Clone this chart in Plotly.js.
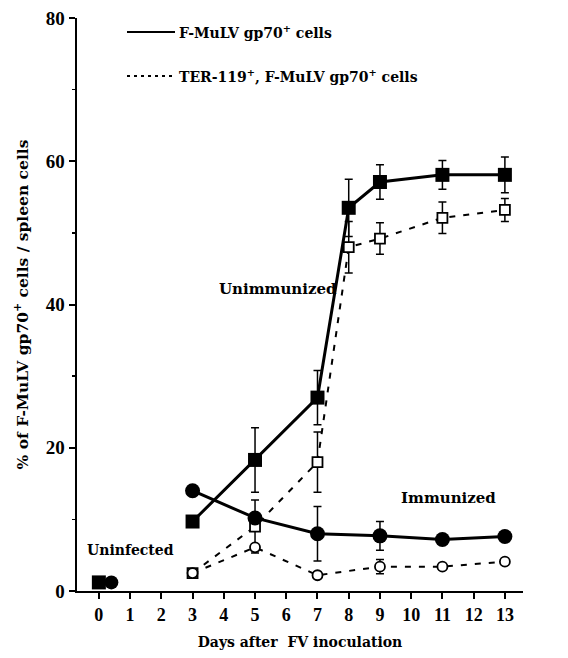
<!DOCTYPE html>
<html>
<head>
<meta charset="utf-8">
<script src="https://cdn.plot.ly/plotly-3.0.1.min.js"></script>
<style>html,body{margin:0;padding:0;background:#fff;}#chart{width:568px;height:658px;}</style>
</head>
<body>
<div id="chart"></div>
<script>
// Days after FV inoculation
const daysUnimm = [3, 5, 7, 8, 9, 11, 13];
const daysImm = [3, 5, 7, 9, 11, 13];
// Unimmunized: F-MuLV gp70+ cells (solid, filled squares)
const unimmGp70 = [9.7, 18.3, 27.0, 53.5, 57.1, 58.1, 58.1];
const unimmGp70Err = [0, 4.5, 3.8, 4.0, 2.4, 2.0, 2.5];
// Unimmunized: TER-119+, F-MuLV gp70+ cells (dashed, open squares)
const unimmTer = [2.5, 9.0, 18.0, 48.0, 49.2, 52.1, 53.2];
const unimmTerErr = [0, 3.7, 4.2, 3.6, 2.2, 2.2, 1.6];
// Immunized: F-MuLV gp70+ cells (solid, filled circles)
const immGp70 = [14.0, 10.2, 8.0, 7.7, 7.2, 7.6];
const immGp70Err = [0, 0, 3.8, 2.0, 0, 0];
// Immunized: TER-119+, F-MuLV gp70+ cells (dashed, open circles)
const immTer = [2.5, 6.1, 2.2, 3.4, 3.4, 4.1];
const immTerErr = [0, 0, 0, 1.0, 0, 0];
// Uninfected
const uninfDaysSq = [0];
const uninfSq = [1.2];
const uninfDaysCi = [0.4];
const uninfCi = [1.2];

const xTicks = [0,1,2,3,4,5,6,7,8,9,10,11,12,13];
const yTicks = [0, 20, 40, 60, 80];

const FONT = 'Liberation Serif, Times New Roman, serif';
const WFONT = 'DejaVu Serif, serif';
const errStyle = {type:'data', visible:true, color:'#000', thickness:1.5, width:4};
function errs(arr){ return Object.assign({}, errStyle, {array: arr}); }

const traces = [
  {x: daysUnimm, y: unimmTer, error_y: errs(unimmTerErr), mode:'lines+markers', type:'scatter',
   line:{color:'#000', width:2, dash:'6px,8px'},
   marker:{symbol:'square', size:10, color:'#fff', line:{color:'#000', width:1.8}}, showlegend:false},
  {x: daysImm, y: immTer, error_y: errs(immTerErr), mode:'lines+markers', type:'scatter',
   line:{color:'#000', width:2, dash:'6px,8px'},
   marker:{symbol:'circle', size:10, color:'#fff', line:{color:'#000', width:1.8}}, showlegend:false},
  {x: daysImm, y: immGp70, error_y: errs(immGp70Err), mode:'lines+markers', type:'scatter',
   line:{color:'#000', width:3},
   marker:{symbol:'circle', size:15, color:'#000'}, showlegend:false},
  {x: daysUnimm, y: unimmGp70, error_y: errs(unimmGp70Err), mode:'lines+markers', type:'scatter',
   line:{color:'#000', width:3},
   marker:{symbol:'square', size:14, color:'#000'}, showlegend:false},
  {x: uninfDaysSq, y: uninfSq, mode:'markers', type:'scatter',
   marker:{symbol:'square', size:14, color:'#000'}, showlegend:false},
  {x: uninfDaysCi, y: uninfCi, mode:'markers', type:'scatter',
   marker:{symbol:'circle', size:14, color:'#000'}, showlegend:false}
];

const layout = {
  width: 568, height: 658,
  margin: {l: 77, r: 45, t: 18, b: 67},
  paper_bgcolor: '#fff', plot_bgcolor: '#fff',
  font: {family: FONT, color: '#000'},
  showlegend: false,
  xaxis: {
    range: [-0.7, 13.58], tickmode:'array', tickvals: xTicks, ticktext: xTicks.map(String),
    showline: true, linecolor:'#000', linewidth: 2, showgrid:false, zeroline:false,
    ticks:'outside', ticklen: 6, tickwidth: 2, tickcolor:'#000',
    tickfont: {family: FONT, size: 18, color:'#000', weight: 'bold'},
    title: {text: '<b>Days after  FV inoculation</b>', font:{family: WFONT, size: 14, color:'#000'}, standoff: 14}
  },
  yaxis: {
    range: [0, 80], tickmode:'array', tickvals: yTicks, ticktext: yTicks.map(String),
    showline: true, linecolor:'#000', linewidth: 2.5, showgrid:false, zeroline:false,
    ticks:'outside', ticklen: 6, tickwidth: 2, tickcolor:'#000',
    minor: {tickvals:[10,30,50,70], ticks:'outside', ticklen:3, tickwidth:1.5, tickcolor:'#000', showgrid:false},
    tickfont: {family: FONT, size: 19, color:'#000', weight: 'bold'},
    title: {text: '<b>% of F-MuLV gp70<sup>+</sup> cells / spleen cells</b>', font:{family: WFONT, size: 15.5, color:'#000'}, standoff: 14}
  },
  shapes: [
    {type:'line', xref:'paper', yref:'paper', x0:(127-77)/446, x1:(175-77)/446, y0:(591-32)/573, y1:(591-32)/573,
     line:{color:'#000', width:2}},
    {type:'line', xref:'paper', yref:'paper', x0:(127-77)/446, x1:(175-77)/446, y0:(591-76)/573, y1:(591-76)/573,
     line:{color:'#000', width:2, dash:'3px,4px'}}
  ],
  annotations: [
    {xref:'paper', yref:'paper', x:(177-77)/446, y:(591-32)/573, xanchor:'left', yanchor:'middle', showarrow:false,
     text:'<b>F-MuLV gp70<sup>+</sup> cells</b>', font:{family: WFONT, size: 14, color:'#000'}},
    {xref:'paper', yref:'paper', x:(177-77)/446, y:(591-76)/573, xanchor:'left', yanchor:'middle', showarrow:false,
     text:'<b>TER-119<sup>+</sup>, F-MuLV gp70<sup>+</sup> cells</b>', font:{family: WFONT, size: 14, color:'#000'}},
    {xref:'x', yref:'y', x:5.72, y:42.2, showarrow:false, text:'<b>Unimmunized</b>',
     font:{family: WFONT, size: 15, color:'#000'}},
    {xref:'x', yref:'y', x:11.2, y:13.0, showarrow:false, text:'<b>Immunized</b>',
     font:{family: WFONT, size: 15, color:'#000'}},
    {xref:'x', yref:'y', x:1.02, y:5.7, showarrow:false, text:'<b>Uninfected</b>',
     font:{family: WFONT, size: 14, color:'#000'}}
  ]
};

Plotly.newPlot('chart', traces, layout, {displayModeBar:false, staticPlot:true});
</script>
</body>
</html>
